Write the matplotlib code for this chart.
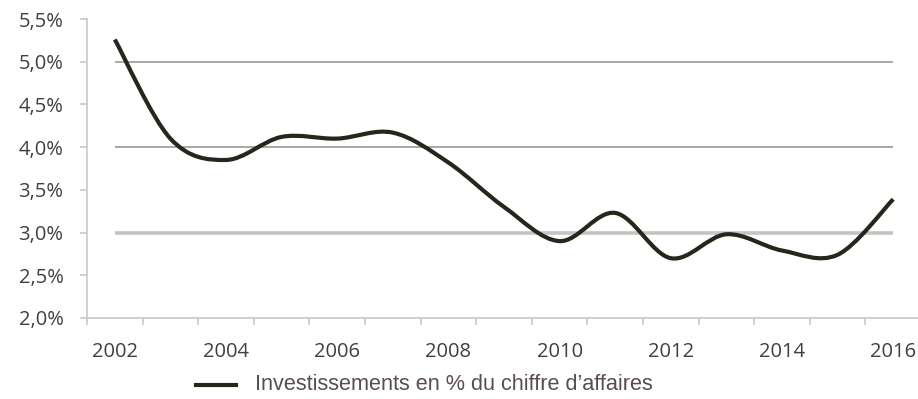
import numpy as np
import matplotlib
matplotlib.use("Agg")
import matplotlib.pyplot as plt
from matplotlib.path import Path
from matplotlib.patches import PathPatch
from matplotlib.lines import Line2D
from matplotlib.ticker import FuncFormatter

years = [2002, 2003, 2004, 2005, 2006, 2007, 2008, 2009,
         2010, 2011, 2012, 2013, 2014, 2015, 2016]
invest_pct = [5.26, 4.10, 3.85, 4.12, 4.10, 4.17, 3.82, 3.30,
              2.90, 3.23, 2.70, 2.98, 2.79, 2.74, 3.39]
gridlines = [3.0, 4.0, 5.0]
series_label = "Investissements en % du chiffre d\u2019affaires"

line_color = "#28261c"
text_color = "#404040"
axis_color = "#c8c8c8"

fig = plt.figure(figsize=(9.18, 3.99), dpi=100)
ax = fig.add_axes([87 / 918, 81 / 399, 834 / 918, 299 / 399])

x = np.arange(len(years), dtype=float)
y = np.array(invest_pct)

# gridlines span first to last category only
ax.hlines(gridlines[1:], x[0], x[-1], color="#a8a8a8", lw=1.4, zorder=1)
ax.hlines(gridlines[:1], x[0], x[-1], color="#c4c4c4", lw=2.6, zorder=1)

# smoothed curve: cubic Bezier through each point (Catmull-Rom style)
pts = np.column_stack([x, y])
verts = [tuple(pts[0])]
codes = [Path.MOVETO]
n = len(pts)
for i in range(n - 1):
    p0 = pts[i - 1] if i > 0 else pts[i]
    p1 = pts[i]
    p2 = pts[i + 1]
    p3 = pts[i + 2] if i + 2 < n else pts[i + 1]
    c1 = p1 + (p2 - p0) / 6.0
    c2 = p2 - (p3 - p1) / 6.0
    verts += [tuple(c1), tuple(c2), tuple(p2)]
    codes += [Path.CURVE4] * 3
ax.add_patch(PathPatch(Path(verts, codes), facecolor="none",
                       edgecolor=line_color, lw=3.0, capstyle="butt",
                       zorder=3))

ax.set_xlim(-0.5, len(years) - 0.5)
ax.set_ylim(2.0, 5.5)

for side in ["top", "right"]:
    ax.spines[side].set_visible(False)
for side in ["left", "bottom"]:
    ax.spines[side].set_color(axis_color)
    ax.spines[side].set_linewidth(1.2)

ax.set_yticks(np.arange(2.0, 5.51, 0.5))
ax.yaxis.set_major_formatter(FuncFormatter(lambda v, p: f"{v:.1f}%".replace(".", ",")))
ax.tick_params(axis="y", length=5, width=1.2, color=axis_color,
               labelsize=14.5, labelcolor=text_color, pad=12)

ax.set_xticks(x[::2])
ax.set_xticklabels([str(yr) for yr in years[::2]])
ax.set_xticks(np.arange(-0.5, len(years), 1.0), minor=True)
ax.tick_params(axis="x", which="major", length=0, labelsize=14.5,
               labelcolor=text_color, pad=17)
ax.tick_params(axis="x", which="minor", length=5, width=1.2, color=axis_color)

for lbl in ax.get_xticklabels() + ax.get_yticklabels():
    lbl.set_fontfamily("Open Sans")

fig.add_artist(Line2D([196 / 918, 236 / 918], [1 - 385 / 399] * 2,
                      color=line_color, lw=3.0))
fig.text(255 / 918, 1 - 385 / 399, series_label, fontsize=15.6,
         family="Liberation Sans", color="#5a4d52", va="center", ha="left")

fig.savefig("out.png", dpi=100)
